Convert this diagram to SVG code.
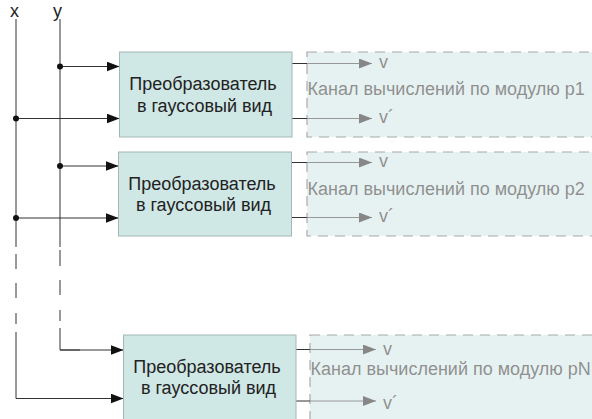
<svg xmlns="http://www.w3.org/2000/svg" width="592" height="419" viewBox="0 0 592 419">
<defs>
<marker id="ah" markerUnits="userSpaceOnUse" markerWidth="14" markerHeight="11" refX="13" refY="5" orient="auto">
<path d="M0,0 L13,5 L0,10 z" fill="#111"/>
</marker>
</defs>
<style>
text{font-family:"Liberation Sans",Arial,sans-serif;font-size:18px;fill:#222}
.ln{stroke:#333;stroke-width:1;fill:none}
.arr{stroke:#333;stroke-width:1;fill:none;marker-end:url(#ah)}
.box{fill:#cfe7e5;stroke:#a3b8b6;stroke-width:1}
.ch{opacity:0.5}
.chr{fill:#cfe7e5;stroke:#555;stroke-width:1.2;stroke-dasharray:10 7}
.mid{text-anchor:middle}
</style>
<rect width="592" height="419" fill="#fff"/>
<text x="10" y="17">x</text>
<text x="53" y="17">y</text>
<g id="connectors">
<path class="ln" d="M16,19 V247 M16,254 V269 M16,283 V298 M16,313 V324 M16,332 V398.5 H40"/>
<path class="ln" d="M60,19 V247 M60,250 V266 M60,280 V295 M60,310 V321 M60,328 V350 H80"/>
<line class="arr" x1="60" y1="66.5" x2="119.5" y2="66.5"/>
<line class="arr" x1="16" y1="118.5" x2="119.5" y2="118.5"/>
<line class="arr" x1="60" y1="166" x2="118.5" y2="166"/>
<line class="arr" x1="16" y1="218" x2="118.5" y2="218"/>
<line class="arr" x1="60" y1="350" x2="123.5" y2="350"/>
<line class="arr" x1="16" y1="398.5" x2="123.5" y2="398.5"/>
<circle cx="60" cy="66.5" r="3" fill="#111"/>
<circle cx="16" cy="118.5" r="3" fill="#111"/>
<circle cx="60" cy="166" r="3" fill="#111"/>
<circle cx="16" cy="218" r="3" fill="#111"/>
<path class="ln" d="M292,63.5 H307 M292,118.5 H307 M291.5,162.5 H307 M291.5,217.5 H307 M296,349.5 H310 M296,401 H310"/>
</g>
<g id="conv1">
<rect class="box" x="119.5" y="52" width="172.5" height="85"/>
<text class="mid" x="203" y="90">Преобразователь</text>
<text class="mid" x="204.5" y="112">в гауссовый вид</text>
</g>
<g id="conv2">
<rect class="box" x="118.5" y="152" width="173" height="84"/>
<text class="mid" x="202" y="189.5">Преобразователь</text>
<text class="mid" x="203.5" y="211">в гауссовый вид</text>
</g>
<g id="conv3">
<rect class="box" x="123.5" y="335" width="172.5" height="100"/>
<text class="mid" x="207" y="373">Преобразователь</text>
<text class="mid" x="208.5" y="394">в гауссовый вид</text>
</g>
<g id="channel1" class="ch">
<rect class="chr" x="307" y="52" width="300" height="85"/>
<line class="arr" x1="307" y1="63.5" x2="372" y2="63.5"/>
<line class="arr" x1="307" y1="118.5" x2="372" y2="118.5"/>
<text x="379" y="68">v</text>
<text x="379" y="123">v´</text>
<text x="307.5" y="95">Канал вычислений по модулю p1</text>
</g>
<g id="channel2" class="ch">
<rect class="chr" x="307" y="152" width="300" height="84"/>
<line class="arr" x1="307" y1="162.5" x2="372" y2="162.5"/>
<line class="arr" x1="307" y1="217.5" x2="372" y2="217.5"/>
<text x="379" y="167">v</text>
<text x="379" y="222">v´</text>
<text x="307.5" y="195">Канал вычислений по модулю p2</text>
</g>
<g id="channel3" class="ch">
<rect class="chr" x="310" y="335" width="300" height="100"/>
<line class="arr" x1="310" y1="349.5" x2="376" y2="349.5"/>
<line class="arr" x1="310" y1="401" x2="376" y2="401"/>
<text x="383" y="355">v</text>
<text x="383" y="409">v´</text>
<text x="310.5" y="375">Канал вычислений по модулю pN</text>
</g>
</svg>
